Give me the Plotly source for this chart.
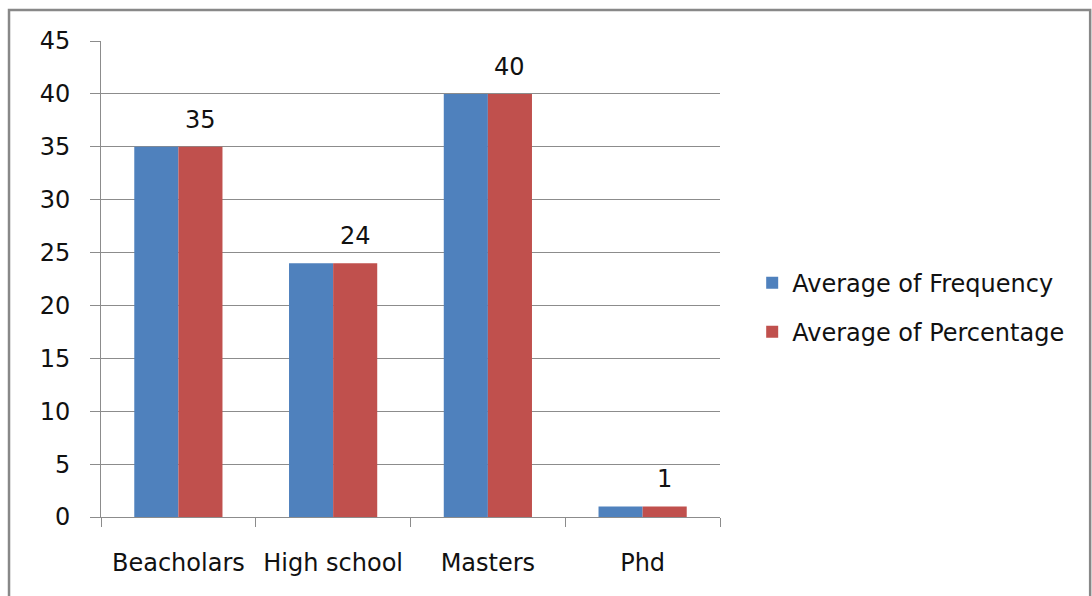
import plotly.graph_objects as go

categories = ["Beacholars", "High school", "Masters", "Phd"]
frequency = [35, 24, 40, 1]
percentage = [35, 24, 40, 1]
series_names = ["Average of Frequency", "Average of Percentage"]
y_ticks = [0, 5, 10, 15, 20, 25, 30, 35, 40, 45]

FONT = "DejaVu Sans"
FS = 24
GRID = "#8c8c8c"

fig = go.Figure()
fig.add_trace(go.Bar(x=categories, y=frequency, name=series_names[0], legendgroup="a",
                     marker=dict(color="#4F81BD", line=dict(width=0))))
fig.add_trace(go.Bar(x=categories, y=percentage, name=series_names[1], legendgroup="b",
                     marker=dict(color="#C0504D", line=dict(width=0))))

for c, v in zip(categories, percentage):
    fig.add_annotation(x=c, y=v, text=str(v), showarrow=False, xshift=22,
                       yanchor="bottom", yshift=11,
                       font=dict(family=FONT, size=FS, color="#111"))

fig.add_shape(type="rect", xref="paper", yref="paper",
              x0=-0.1486, x1=1.598, y0=-0.2, y1=1.065,
              line=dict(color="#888888", width=2.5), fillcolor="rgba(0,0,0,0)",
              layer="below")

fig.update_layout(
    width=1092, height=596,
    margin=dict(l=101, r=372, t=41, b=79),
    paper_bgcolor="white", plot_bgcolor="white",
    barmode="group", bargap=0.43, bargroupgap=0,
    font=dict(family=FONT, size=FS, color="#111"),
    showlegend=True,
    legend=dict(x=1.052, y=0.44, xanchor="left", yanchor="middle",
                font=dict(family=FONT, size=FS, color="#111"),
                tracegroupgap=15, itemsizing="constant"),
    xaxis=dict(showline=True, linecolor=GRID, linewidth=1,
               ticks="outside", tickson="boundaries", ticklen=9, tickcolor=GRID,
               showgrid=False, tickfont=dict(family=FONT, size=FS),
               ticklabelstandoff=24),
    yaxis=dict(range=[0, 45], tickvals=y_ticks, showline=True, linecolor=GRID,
               linewidth=1, ticks="outside", ticklen=10, tickcolor=GRID,
               showgrid=True, gridcolor=GRID, gridwidth=1, zeroline=False,
               tickfont=dict(family=FONT, size=FS), ticklabelstandoff=15),
)

fig.write_html("out.html")
